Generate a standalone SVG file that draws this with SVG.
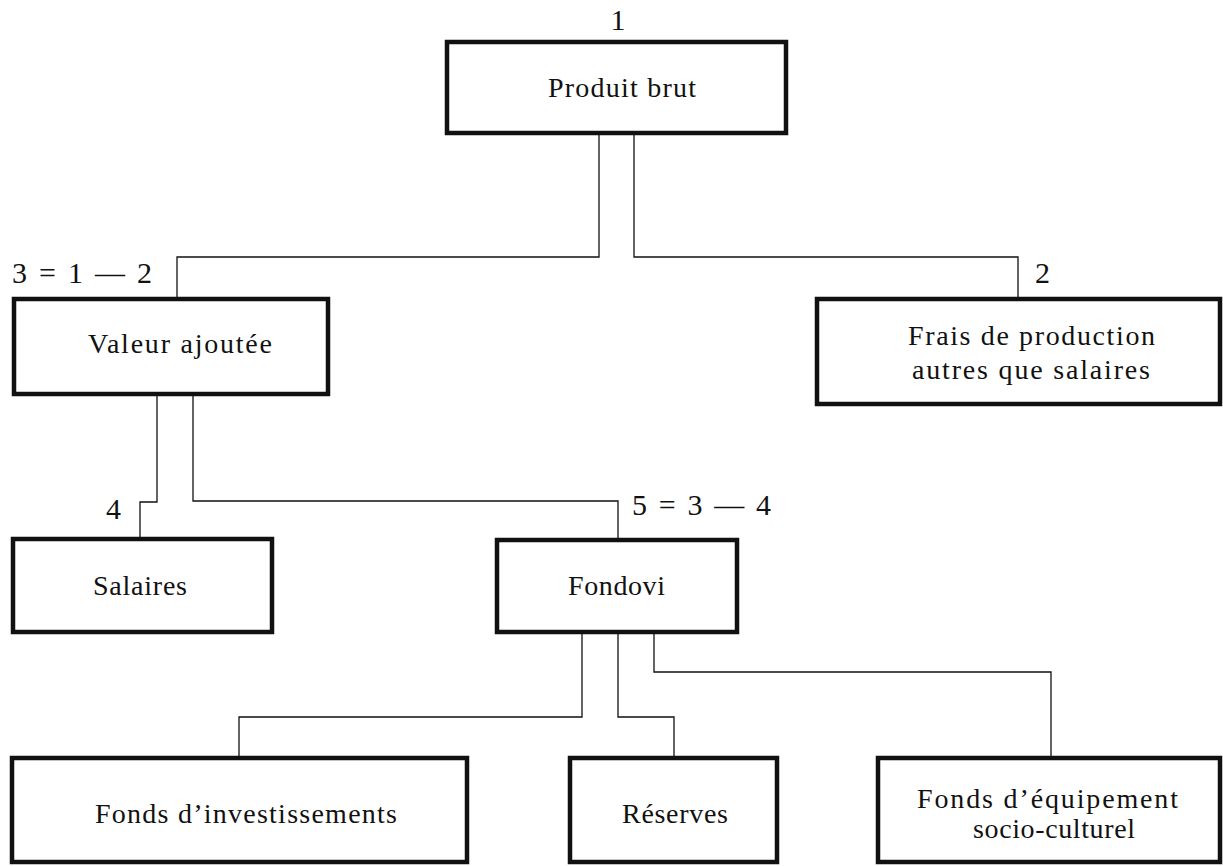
<svg xmlns="http://www.w3.org/2000/svg" width="1223" height="866" viewBox="0 0 1223 866">
  <style>
    .box { fill: #fff; stroke: #111; stroke-width: 4.5; }
    .link { fill: none; stroke: #111; stroke-width: 1.3; }
    .lbl { font-family: "Liberation Serif", "DejaVu Serif", serif; font-size: 28px; fill: #111; }
    .num { font-family: "Liberation Serif", "DejaVu Serif", serif; font-size: 30px; fill: #111; }
  </style>
  <rect width="1223" height="866" fill="#fff"/>

  <!-- connectors -->
  <g id="connectors">
    <path class="link" d="M599 135 V257 H177 V299"/>
    <path class="link" d="M634 135 V257 H1018 V299"/>
    <path class="link" d="M157 396 V502 H140 V539"/>
    <path class="link" d="M193 396 V501 H618 V540"/>
    <path class="link" d="M582 634 V717 H239 V758"/>
    <path class="link" d="M618 634 V717 H674 V758"/>
    <path class="link" d="M654 634 V672 H1051 V758"/>
  </g>

  <!-- 1: gross product -->
  <g id="produit-brut">
    <text class="num" x="618" y="30" text-anchor="middle" font-size="22">1</text>
    <rect class="box" x="447" y="42" width="339" height="91"/>
    <text class="lbl" x="548" y="97" textLength="148" lengthAdjust="spacing">Produit brut</text>
  </g>

  <!-- 3: value added -->
  <g id="valeur-ajoutee">
    <text class="num" x="12" y="283" textLength="140" lengthAdjust="spacing">3 = 1 — 2</text>
    <rect class="box" x="14" y="299" width="314" height="95"/>
    <text class="lbl" x="88" y="353" textLength="184" lengthAdjust="spacing">Valeur ajoutée</text>
  </g>

  <!-- 2: production costs -->
  <g id="frais-production">
    <text class="num" x="1035" y="283">2</text>
    <rect class="box" x="817" y="299" width="403" height="105"/>
    <text class="lbl" x="908" y="345" textLength="247" lengthAdjust="spacing">Frais de production</text>
    <text class="lbl" x="912" y="379" textLength="238" lengthAdjust="spacing">autres que salaires</text>
  </g>

  <!-- 4: wages -->
  <g id="salaires">
    <text class="num" x="106" y="519">4</text>
    <rect class="box" x="13" y="539" width="259" height="93"/>
    <text class="lbl" x="93" y="595" textLength="94" lengthAdjust="spacing">Salaires</text>
  </g>

  <!-- 5: funds -->
  <g id="fondovi">
    <text class="num" x="632" y="515" textLength="139" lengthAdjust="spacing">5 = 3 — 4</text>
    <rect class="box" x="497" y="540" width="240" height="92"/>
    <text class="lbl" x="568" y="595" textLength="97" lengthAdjust="spacing">Fondovi</text>
  </g>

  <g id="fonds-investissements">
    <rect class="box" x="12" y="758" width="455" height="104"/>
    <text class="lbl" x="95" y="823" textLength="302" lengthAdjust="spacing">Fonds d’investissements</text>
  </g>

  <g id="reserves">
    <rect class="box" x="570" y="758" width="207" height="104"/>
    <text class="lbl" x="622" y="823" textLength="106" lengthAdjust="spacing">Réserves</text>
  </g>

  <g id="fonds-equipement">
    <rect class="box" x="878" y="758" width="342" height="104"/>
    <text class="lbl" x="917" y="808" textLength="261" lengthAdjust="spacing">Fonds d’équipement</text>
    <text class="lbl" x="973" y="838" textLength="162" lengthAdjust="spacing">socio-culturel</text>
  </g>
</svg>
